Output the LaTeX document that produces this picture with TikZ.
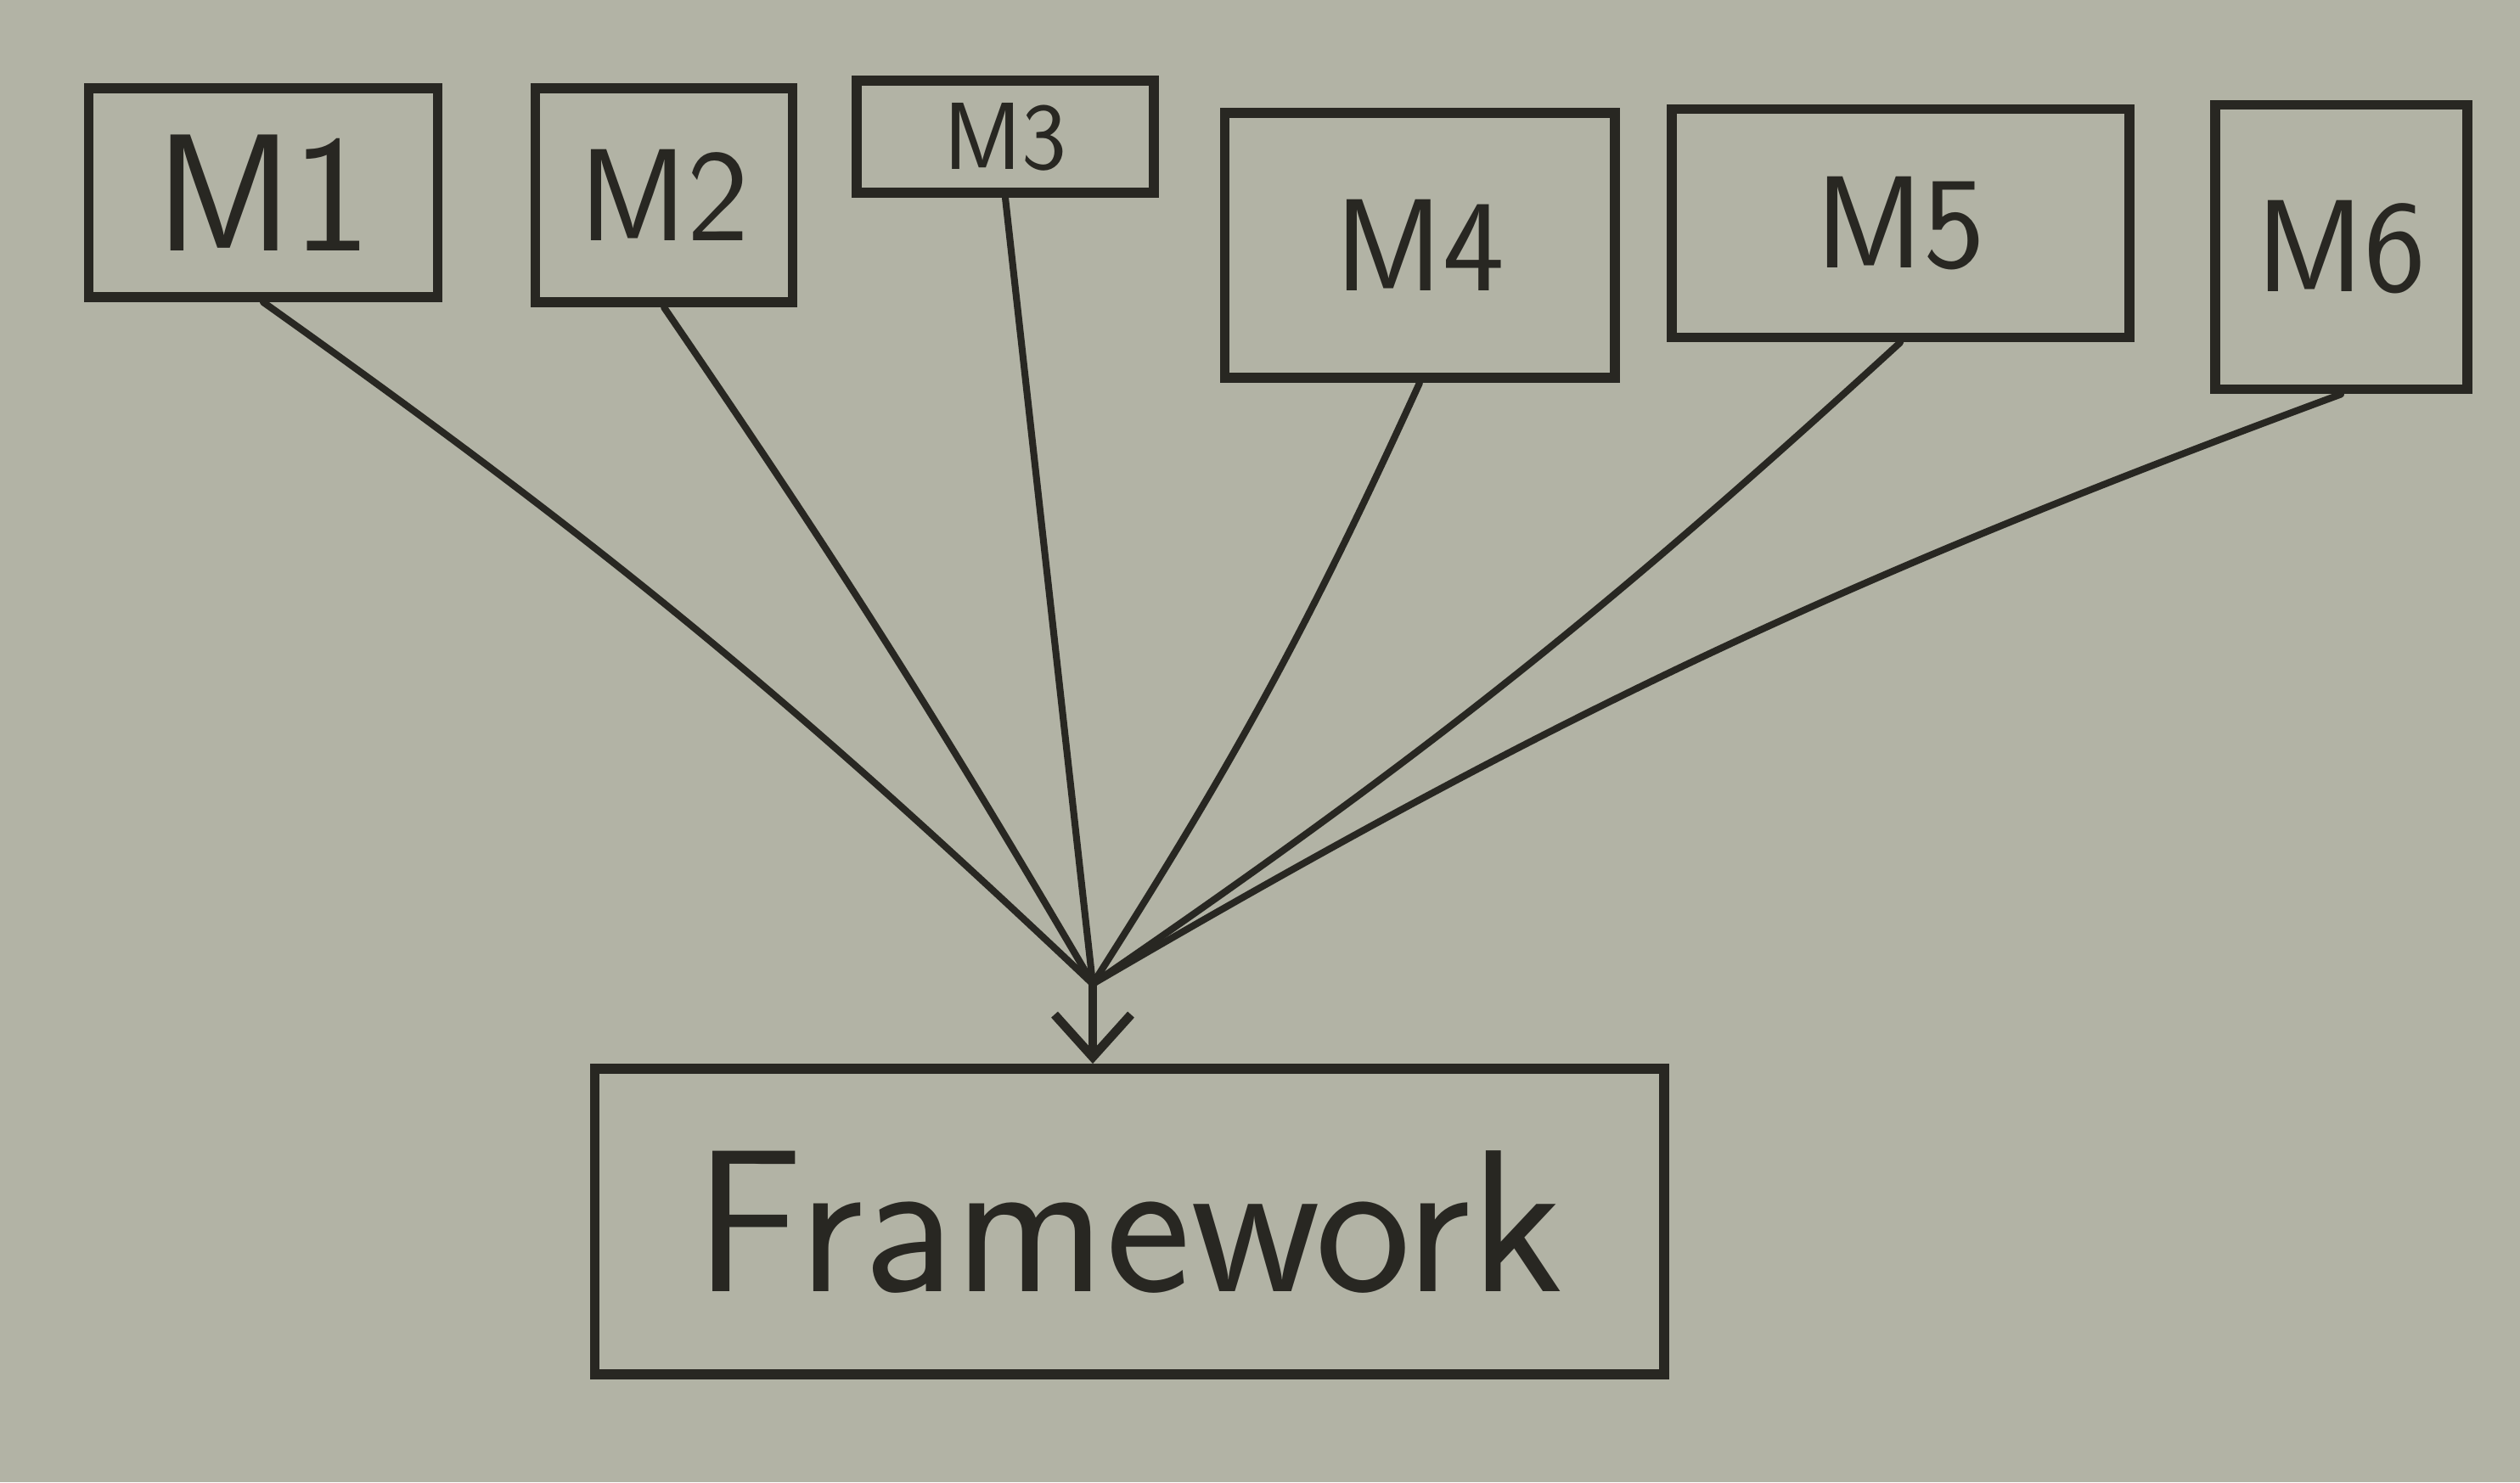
\documentclass[tikz,border=0pt]{standalone}
\usepackage{tikz}
\usetikzlibrary{arrows.meta}
\definecolor{board}{RGB}{178,179,165}
\definecolor{marker}{RGB}{40,39,34}
\tikzset{
  modbox/.style={draw=marker, line width=3.4pt, inner sep=0pt, text=marker,
    font=\sffamily\fontsize{44}{50}\selectfont},
  bigtext/.style={font=\sffamily\fontsize{56}{62}\selectfont},
  smalltext/.style={font=\sffamily\fontsize{32}{38}\selectfont},
  fwbox/.style={modbox, font=\sffamily\fontsize{68}{76}\selectfont},
  wire/.style={draw=marker, line width=2.3pt, line cap=round}
}

\begin{document}
\begin{tikzpicture}
			%%%%% START %%%%%
			
			\fill[board] (0, 0) rectangle (29.68, -17.46);
			\useasboundingbox (0, 0) rectangle (29.68, -17.46);
			
			\node[modbox, bigtext, minimum width=4.11cm, minimum height=2.46cm] (m1) at (3.10, -2.27) {M1};
			\node[modbox, minimum width=3.03cm, minimum height=2.52cm] (m2) at (7.82, -2.30) {M2};
			\node[modbox, smalltext, minimum width=3.50cm, minimum height=1.32cm] (m3) at (11.84, -1.61) {M3};
			\node[modbox, minimum width=4.59cm, minimum height=3.12cm] (m4) at (16.72, -2.89) {M4};
			\node[modbox, minimum width=5.39cm, minimum height=2.69cm] (m5) at (22.38, -2.63) {M5};
			\node[modbox, minimum width=2.97cm, minimum height=3.35cm] (m6) at (27.57, -2.91) {M6};
			
			\node[fwbox, minimum width=12.59cm, minimum height=3.60cm] (fw) at (13.30, -14.39) {Framework};
			
			\coordinate (hub) at (12.87, -11.59);
			
			\draw[wire] (m1.south) to[bend left=4] (hub);
			\draw[wire] (m2.south) to[bend left=2] (hub);
			\draw[wire] (m3.south) -- (hub);
			\draw[wire] (m4.south) to[bend left=4] (hub);
			\draw[wire] (m5.south) to[bend left=4] (hub);
			\draw[wire] (m6.south) to[bend right=5] (hub);
			
			\draw[wire, line width=3pt, -{Straight Barb[length=5mm, width=9mm]}] (hub) -- (hub |- fw.north);
			
			%%%%% END %%%%%
\end{tikzpicture}
\end{document}
